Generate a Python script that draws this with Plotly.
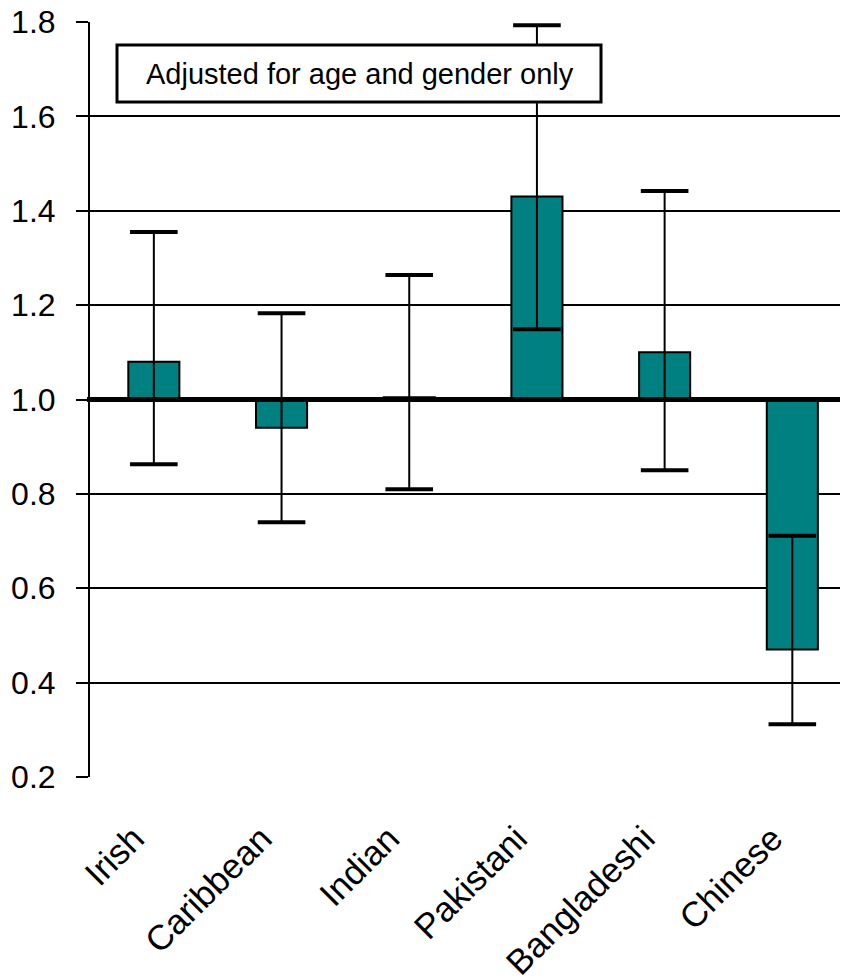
import plotly.graph_objects as go

categories = ["Irish", "Caribbean", "Indian", "Pakistani", "Bangladeshi", "Chinese"]
values = [1.08, 0.94, 1.005, 1.43, 1.10, 0.47]
ci_upper = [1.355, 1.183, 1.264, 1.793, 1.442, 0.711]
ci_lower = [0.863, 0.740, 0.810, 1.149, 0.850, 0.312]
y_ticks = [0.2, 0.4, 0.6, 0.8, 1.0, 1.2, 1.4, 1.6, 1.8]
y_tick_labels = ["0.2", "0.4", "0.6", "0.8", "1.0", "1.2", "1.4", "1.6", "1.8"]
baseline = 1.0
note = "Adjusted for age and gender only"

FONT = "Liberation Sans, Arial, sans-serif"

# page has an 8px body margin; plot area spans page x 90..848, y 22..777
OFF = 8
L, T = 90 - OFF, 22 - OFF
PW, PH = 758, 755

fig = go.Figure()
fig.add_trace(go.Bar(
    x=categories,
    y=[v - baseline for v in values],
    base=baseline,
    width=0.4,
    marker=dict(color="#008080", line=dict(color="black", width=2)),
    showlegend=False,
))
# error bar stems
fig.add_trace(go.Scatter(
    x=categories,
    y=values,
    mode="markers",
    marker=dict(size=1, opacity=0),
    error_y=dict(
        type="data",
        symmetric=False,
        array=[u - v for u, v in zip(ci_upper, values)],
        arrayminus=[v - l for v, l in zip(values, ci_lower)],
        color="black",
        thickness=2,
        width=0,
    ),
    showlegend=False,
))
# thick caps
fig.add_trace(go.Scatter(
    x=categories + categories,
    y=ci_upper + ci_lower,
    mode="markers",
    marker=dict(symbol="line-ew", size=34, color="black",
                line=dict(color="black", width=4)),
    showlegend=False,
    cliponaxis=False,
))

fig.update_layout(
    width=848,
    height=978,
    margin=dict(l=L, r=848 - L - PW, t=T, b=978 - T - PH),
    paper_bgcolor="white",
    plot_bgcolor="white",
    font=dict(family=FONT, color="black", size=32),
    xaxis=dict(
        type="category",
        range=[-0.5, 5.436],
        showgrid=False,
        showline=False,
        ticks="",
        tickangle=-45,
        tickfont=dict(size=35),
        ticklabelstandoff=33,
        ticklabelshift=-20,
        ticklabeloverflow="allow",
        zeroline=False,
        automargin=False,
    ),
    yaxis=dict(
        range=[0.2, 1.8],
        tickvals=y_ticks,
        ticktext=y_tick_labels,
        showgrid=True,
        gridcolor="black",
        gridwidth=2,
        showline=True,
        linecolor="black",
        linewidth=2,
        ticks="outside",
        ticklen=12,
        tickwidth=2,
        tickcolor="black",
        tickfont=dict(size=32),
        ticklabelstandoff=14,
        ticklabeloverflow="allow",
        zeroline=False,
        automargin=False,
    ),
    shapes=[
        dict(type="line", xref="paper", yref="y", x0=-0.004, x1=1, y0=baseline, y1=baseline,
             line=dict(color="black", width=5), layer="above"),
        dict(type="rect", xref="paper", yref="paper",
             x0=(117 - 90) / PW, x1=(601 - 90) / PW,
             y0=(777 - 102) / PH, y1=(777 - 45) / PH,
             line=dict(color="black", width=3), fillcolor="white", layer="above"),
    ],
    annotations=[
        dict(text=note, xref="paper", yref="paper",
             x=(360 - 90) / PW, y=(777 - 74) / PH,
             showarrow=False, font=dict(size=29, family=FONT, color="black"),
             xanchor="center", yanchor="middle"),
    ],
)

fig.write_html("out.html")
